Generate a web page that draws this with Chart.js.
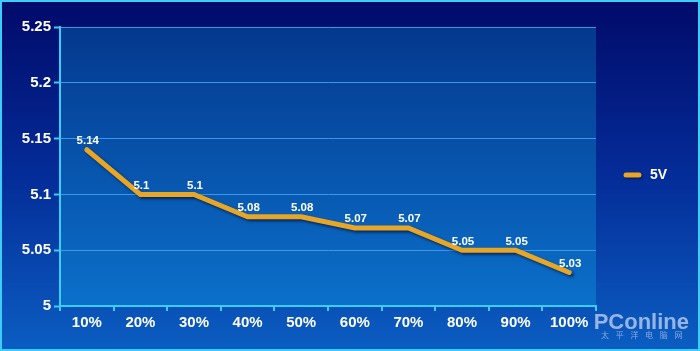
<!DOCTYPE html>
<html>
<head>
<meta charset="utf-8">
<script src="https://cdn.jsdelivr.net/npm/chart.js@4/dist/chart.umd.min.js"></script>
<style>
  html, body { margin: 0; padding: 0; background: #041a80; }
  canvas { display: block; }
</style>
</head>
<body>
<canvas id="c" width="700" height="351"></canvas>
<script>
// 부하율별 5V 전압
const loadLabels = ['10%', '20%', '30%', '40%', '50%', '60%', '70%', '80%', '90%', '100%'];
const v5Values = [5.14, 5.1, 5.1, 5.08, 5.08, 5.07, 5.07, 5.05, 5.05, 5.03];
const seriesName = '5V';

const LINE = '#e8a626';
const FONT = "'Liberation Sans', Arial, sans-serif";

// 바깥 배경 + 플롯 영역 그라디언트
const backdrop = {
  id: 'backdrop',
  beforeDraw(chart) {
    const { ctx, width, height, chartArea: a } = chart;
    ctx.save();
    let g = ctx.createLinearGradient(0, 0, 0, height);
    g.addColorStop(0, '#010a6a');
    g.addColorStop(0.5, '#042c98');
    g.addColorStop(1, '#0b5ec2');
    ctx.fillStyle = g;
    ctx.fillRect(0, 0, width, height);
    g = ctx.createLinearGradient(0, a.top, 0, a.bottom);
    g.addColorStop(0, '#04388e');
    g.addColorStop(1, '#0b70ca');
    ctx.fillStyle = g;
    ctx.fillRect(a.left, a.top, a.right - a.left, a.bottom - a.top);
    ctx.restore();
  },
  afterDraw(chart) {
    const { ctx, width, height } = chart;
    ctx.save();
    ctx.strokeStyle = '#3ccdf6';
    ctx.lineWidth = 2;
    ctx.strokeRect(1, 1, width - 2, height - 2);
    // 워터마크
    ctx.fillStyle = 'rgba(175,198,235,0.85)';
    ctx.font = 'bold 22px ' + FONT;
    ctx.textAlign = 'right';
    ctx.textBaseline = 'alphabetic';
    ctx.fillText('PConline', 689, 329);
    ctx.font = '8px "Noto Sans CJK SC", sans-serif';
    ctx.fillStyle = 'rgba(175,198,235,0.75)';
    ctx.textAlign = 'center';
    ctx.textBaseline = 'middle';
    const cn = '太平洋电脑网';
    for (let i = 0; i < cn.length; i++) ctx.fillText(cn[i], 605 + i * 14.7, 335);
    ctx.restore();
  },
};

// 선 그림자
const lineShadow = {
  id: 'lineShadow',
  beforeDatasetsDraw(chart) {
    const { ctx } = chart;
    ctx.save();
    ctx.shadowColor = 'rgba(0,0,30,0.6)';
    ctx.shadowBlur = 3;
    ctx.shadowOffsetX = 2;
    ctx.shadowOffsetY = 2;
  },
  afterDatasetsDraw(chart) {
    chart.ctx.restore();
  },
};

// 값 라벨 + 오른쪽 범례
const valueLabels = {
  id: 'valueLabels',
  afterDatasetsDraw(chart) {
    const { ctx } = chart;
    const meta = chart.getDatasetMeta(0);
    ctx.save();
    ctx.font = 'bold 11.5px ' + FONT;
    ctx.fillStyle = '#ffffff';
    ctx.textAlign = 'center';
    ctx.textBaseline = 'bottom';
    meta.data.forEach((pt, i) => {
      ctx.fillText(String(v5Values[i]), pt.x + 1, pt.y - 3);
    });
    // legend
    const ly = 175;
    ctx.shadowColor = 'rgba(0,0,30,0.6)';
    ctx.shadowBlur = 2;
    ctx.shadowOffsetX = 1;
    ctx.shadowOffsetY = 1;
    ctx.strokeStyle = LINE;
    ctx.lineWidth = 5;
    ctx.lineCap = 'round';
    ctx.beginPath();
    ctx.moveTo(626, ly);
    ctx.lineTo(639, ly);
    ctx.stroke();
    ctx.shadowColor = 'transparent';
    ctx.font = 'bold 14px ' + FONT;
    ctx.textAlign = 'left';
    ctx.textBaseline = 'middle';
    ctx.fillText(seriesName, 650, ly);
    ctx.restore();
  },
};

new Chart(document.getElementById('c'), {
  type: 'line',
  data: {
    labels: loadLabels,
    datasets: [{
      label: seriesName,
      data: v5Values,
      borderColor: LINE,
      backgroundColor: LINE,
      borderWidth: 5,
      borderJoinStyle: 'miter',
      borderCapStyle: 'round',
      pointRadius: 0,
      tension: 0,
      fill: false,
    }],
  },
  options: {
    responsive: false,
    maintainAspectRatio: false,
    animation: false,
    layout: { padding: { top: 27, right: 104, left: 0, bottom: 0 } },
    plugins: { legend: { display: false }, tooltip: { enabled: false } },
    scales: {
      x: {
        offset: true,
        afterFit: s => { s.height = 45; },
        grid: { offset: true, drawOnChartArea: false, drawTicks: true, tickLength: 5, tickColor: '#3ccdf6', lineWidth: 2 },
        border: { color: '#3ccdf6', width: 2 },
        ticks: { color: '#ffffff', font: { family: FONT, size: 15, weight: 'bold' }, padding: 3, maxRotation: 0 },
      },
      y: {
        min: 5,
        max: 5.25,
        afterFit: s => { s.width = 60; },
        grid: { color: '#3a98e6', lineWidth: 1, tickLength: 6, tickColor: '#3ccdf6', tickWidth: 2 },
        border: { color: '#3ccdf6', width: 2 },
        ticks: {
          stepSize: 0.05,
          color: '#ffffff',
          padding: 3,
          font: { family: FONT, size: 15, weight: 'bold' },
          callback: v => String(+Number(v).toFixed(2)),
        },
      },
    },
  },
  plugins: [backdrop, lineShadow, valueLabels],
});
</script>
</body>
</html>
